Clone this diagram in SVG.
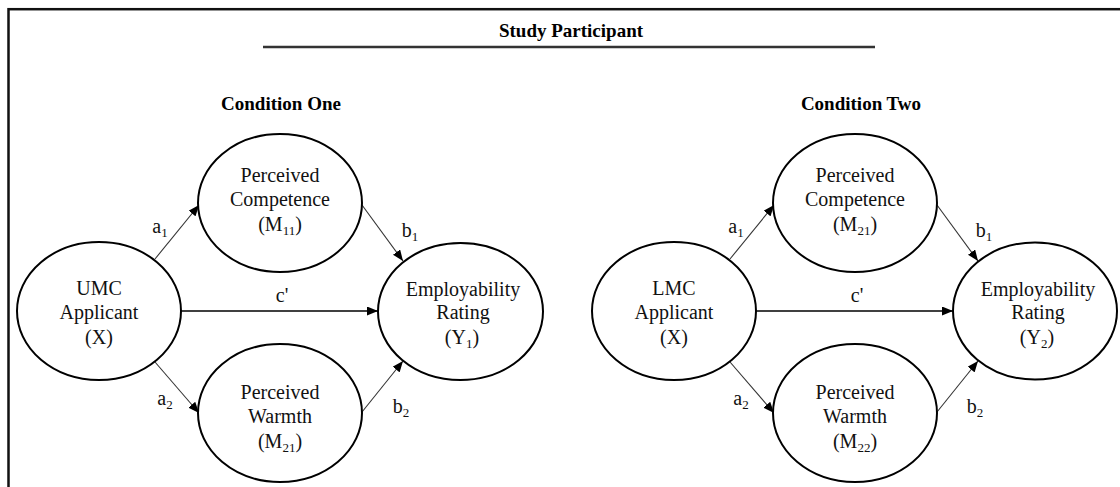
<svg xmlns="http://www.w3.org/2000/svg" width="1120" height="487" viewBox="0 0 1120 487">
  <style>
    .node ellipse { fill: #ffffff; stroke: #000000; stroke-width: 2; }
    .node text { font-family: "Liberation Serif", "Times New Roman", serif; font-size: 20px; fill: #111111; text-anchor: middle; }
    .title { font-family: "Liberation Serif", "Times New Roman", serif; font-size: 19px; font-weight: bold; fill: #000000; text-anchor: middle; }
    .lbl { font-family: "Liberation Serif", "Times New Roman", serif; font-size: 20px; fill: #111111; text-anchor: middle; }
    .sub { font-size: 13px; }
    .conn line { stroke: #333333; stroke-width: 1.1; marker-end: url(#arrow); }
    .conn line.direct { stroke: #000000; stroke-width: 1.4; }
  </style>
  <defs>
    <marker id="arrow" markerUnits="userSpaceOnUse" markerWidth="11" markerHeight="9" refX="11" refY="4.5" orient="auto">
      <path d="M0,0 L11,4.5 L0,9 z" fill="#000000"/>
    </marker>
  </defs>
  <rect x="8.5" y="9.2" width="1200" height="1000" fill="#ffffff" stroke="#111111" stroke-width="2.5"/>
  <g id="header">
    <text class="title" x="571" y="37">Study Participant</text>
    <line x1="263" y1="47" x2="875" y2="47" stroke="#333333" stroke-width="2.5"/>
    <text class="title" x="281" y="110">Condition One</text>
    <text class="title" x="861" y="110">Condition Two</text>
  </g>
  <g id="connectors" class="conn">
    <line x1="155" y1="259" x2="199" y2="205"/>
    <line x1="362" y1="205" x2="403" y2="261"/>
    <line class="direct" x1="181" y1="311" x2="378" y2="311"/>
    <line x1="155" y1="362" x2="199" y2="413"/>
    <line x1="362" y1="412" x2="403" y2="361"/>
    <line x1="730" y1="259" x2="774" y2="205"/>
    <line x1="937" y1="205" x2="978" y2="261"/>
    <line class="direct" x1="756" y1="311" x2="953" y2="311"/>
    <line x1="730" y1="362" x2="774" y2="413"/>
    <line x1="937" y1="412" x2="978" y2="361"/>
  </g>
  <g id="labels">
    <text class="lbl" x="160" y="233">a<tspan class="sub" dy="4">1</tspan></text>
    <text class="lbl" x="410" y="237">b<tspan class="sub" dy="4">1</tspan></text>
    <text class="lbl" x="282" y="302">c'</text>
    <text class="lbl" x="165" y="405">a<tspan class="sub" dy="4">2</tspan></text>
    <text class="lbl" x="401" y="413">b<tspan class="sub" dy="4">2</tspan></text>
    <text class="lbl" x="736" y="233">a<tspan class="sub" dy="4">1</tspan></text>
    <text class="lbl" x="984" y="237">b<tspan class="sub" dy="4">1</tspan></text>
    <text class="lbl" x="857" y="302">c'</text>
    <text class="lbl" x="741" y="405">a<tspan class="sub" dy="4">2</tspan></text>
    <text class="lbl" x="975" y="413">b<tspan class="sub" dy="4">2</tspan></text>
  </g>
  <g id="umc" class="node">
    <ellipse cx="99" cy="311" rx="82" ry="69"/>
    <text x="99" y="295">UMC</text>
    <text x="99" y="319">Applicant</text>
    <text x="99" y="344">(X)</text>
  </g>
  <g id="competence1" class="node">
    <ellipse cx="280" cy="203" rx="82" ry="69"/>
    <text x="280" y="182">Perceived</text>
    <text x="280" y="206">Competence</text>
    <text x="280" y="231">(M<tspan class="sub" dy="4">11</tspan><tspan dy="-4">)</tspan></text>
  </g>
  <g id="warmth1" class="node">
    <ellipse cx="280" cy="413" rx="82" ry="69"/>
    <text x="280" y="399">Perceived</text>
    <text x="280" y="423">Warmth</text>
    <text x="280" y="448">(M<tspan class="sub" dy="4">21</tspan><tspan dy="-4">)</tspan></text>
  </g>
  <g id="employ1" class="node">
    <ellipse cx="460.5" cy="311.5" rx="82.5" ry="68.5"/>
    <text x="463" y="296">Employability</text>
    <text x="463" y="319">Rating</text>
    <text x="462" y="344">(Y<tspan class="sub" dy="4">1</tspan><tspan dy="-4">)</tspan></text>
  </g>
  <g id="lmc" class="node">
    <ellipse cx="674" cy="311" rx="82" ry="69"/>
    <text x="674" y="295">LMC</text>
    <text x="674" y="319">Applicant</text>
    <text x="674" y="344">(X)</text>
  </g>
  <g id="competence2" class="node">
    <ellipse cx="855" cy="203" rx="82" ry="69"/>
    <text x="855" y="182">Perceived</text>
    <text x="855" y="206">Competence</text>
    <text x="855" y="231">(M<tspan class="sub" dy="4">21</tspan><tspan dy="-4">)</tspan></text>
  </g>
  <g id="warmth2" class="node">
    <ellipse cx="855" cy="413" rx="82" ry="69"/>
    <text x="855" y="399">Perceived</text>
    <text x="855" y="423">Warmth</text>
    <text x="855" y="448">(M<tspan class="sub" dy="4">22</tspan><tspan dy="-4">)</tspan></text>
  </g>
  <g id="employ2" class="node">
    <ellipse cx="1035" cy="311" rx="82" ry="68.5"/>
    <text x="1038" y="296">Employability</text>
    <text x="1038" y="319">Rating</text>
    <text x="1037" y="344">(Y<tspan class="sub" dy="4">2</tspan><tspan dy="-4">)</tspan></text>
  </g>
</svg>
